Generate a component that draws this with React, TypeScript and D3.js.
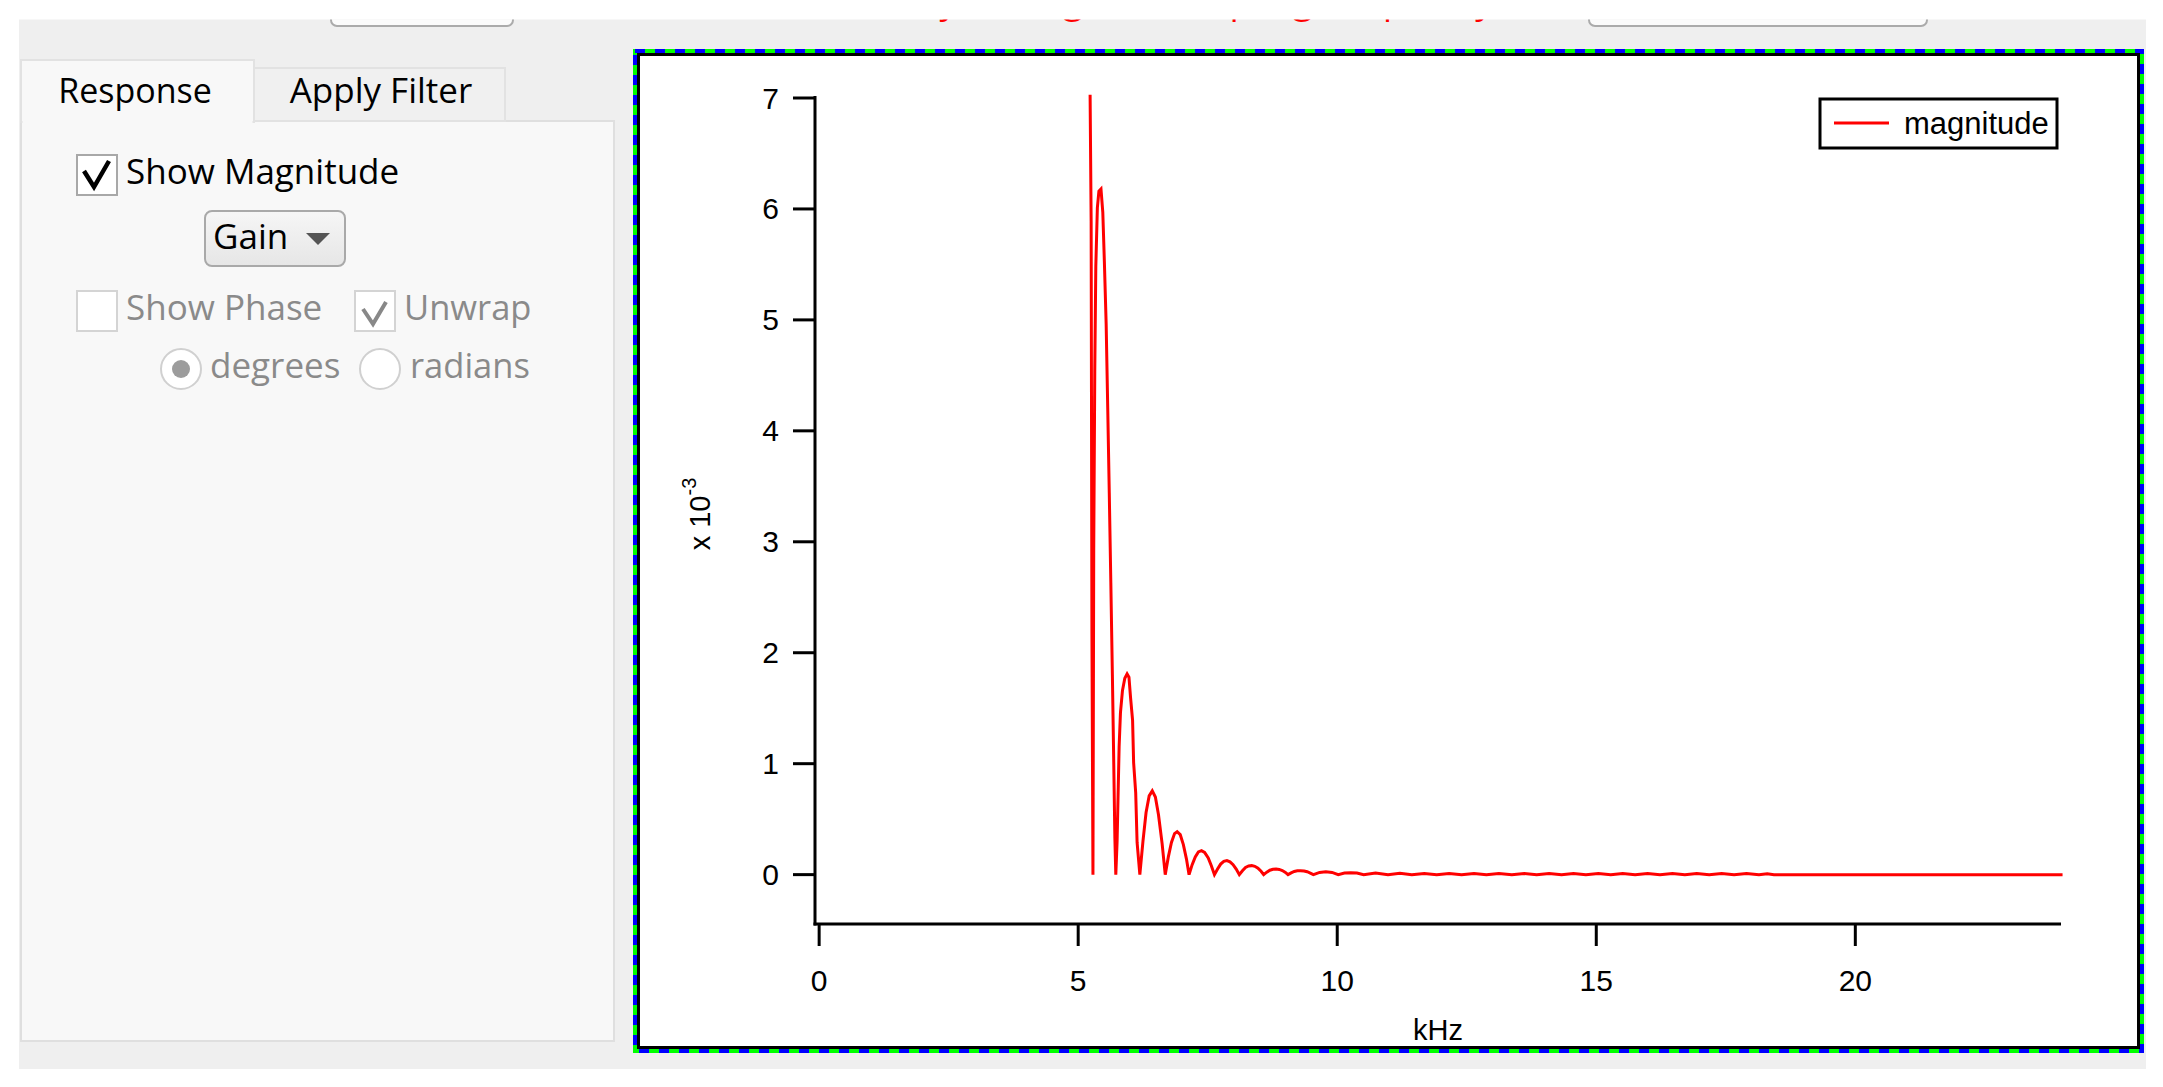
import React from 'react';
import * as d3 from 'd3';

// frequency (kHz) and magnitude (x 10^-3)
const freqKHz: number[] = [
  5.23, 5.25, 5.265, 5.285, 5.3, 5.32, 5.34, 5.37, 5.4, 5.44, 5.475, 5.505, 5.54, 5.57, 5.6, 5.63, 5.66, 5.685, 5.708, 5.726,
  5.751, 5.79, 5.816, 5.855, 5.9, 5.944, 5.98, 6.01, 6.05, 6.07, 6.11, 6.137, 6.19,
  6.25, 6.31, 6.37, 6.43, 6.49, 6.55, 6.62, 6.68,
  6.74, 6.8, 6.86, 6.91, 6.97, 7.03, 7.09, 7.14,
  7.2, 7.26, 7.32, 7.38, 7.44, 7.51, 7.57, 7.63,
  7.69, 7.75, 7.81, 7.87, 7.93, 7.99, 8.05, 8.11,
  8.17, 8.23, 8.29, 8.35, 8.41, 8.47, 8.53, 8.58,
  8.64, 8.7, 8.76, 8.82, 8.88, 8.94, 9.0, 9.05,
  9.11, 9.17, 9.23, 9.29, 9.36, 9.42, 9.48, 9.54,
  9.66, 9.78, 9.9, 10.02,
  10.14, 10.26, 10.38, 10.51,
  10.74, 10.98, 11.21, 11.44,
  11.68, 11.92, 12.16, 12.4, 12.64, 12.88, 13.12, 13.37, 13.61, 13.85, 14.09, 14.33, 14.56, 14.8,
  15.04, 15.28, 15.51, 15.75, 15.99, 16.23, 16.47, 16.71, 16.94, 17.18, 17.42, 17.66, 17.9, 18.14,
  18.3, 18.43, 24.0,
];
const magnitude: number[] = [
  7.03, 5.89, 2.19, 0.0, 2.94, 4.53, 5.48, 6.01, 6.16, 6.18, 5.97, 5.53, 4.96, 4.21, 3.44, 2.63, 1.8, 1.05, 0.33, 0.0,
  0.3, 1.15, 1.46, 1.66, 1.77, 1.81, 1.78, 1.6, 1.39, 1.01, 0.74, 0.29, 0.0,
  0.3, 0.56, 0.71, 0.755, 0.7, 0.54, 0.28, 0.0,
  0.16, 0.29, 0.37, 0.387, 0.36, 0.27, 0.14, 0.0,
  0.09, 0.16, 0.205, 0.216, 0.2, 0.15, 0.08, 0.0,
  0.05, 0.095, 0.12, 0.126, 0.115, 0.09, 0.05, 0.0,
  0.035, 0.065, 0.078, 0.081, 0.075, 0.058, 0.03, 0.0,
  0.022, 0.04, 0.048, 0.05, 0.047, 0.037, 0.02, 0.0,
  0.016, 0.029, 0.035, 0.036, 0.033, 0.026, 0.014, 0.0,
  0.02, 0.025, 0.02, 0.0,
  0.014, 0.018, 0.014, 0.0,
  0.014, 0.0, 0.012, 0.0,
  0.01, 0.0, 0.01, 0.0, 0.01, 0.0, 0.01, 0.0, 0.01, 0.0, 0.01, 0.0, 0.01, 0.0,
  0.01, 0.0, 0.01, 0.0, 0.01, 0.0, 0.01, 0.0, 0.01, 0.0, 0.01, 0.0, 0.01, 0.0,
  0.008, 0.0, 0.0,
];
const xTicks: number[] = [0, 5, 10, 15, 20];
const yTicks: number[] = [0, 1, 2, 3, 4, 5, 6, 7];
const seriesName = 'magnitude';
const xAxisTitle = 'kHz';

const UI_FONT = '"Open Sans", "Noto Sans", sans-serif';
const CHART_FONT = '"Liberation Sans", Arial, sans-serif';

export default function App() {
  const W = 2163;
  const H = 1087;
  const x = d3.scaleLinear().domain([-0.08, 23.97]).range([815, 2061]);
  const y = d3.scaleLinear().domain([-0.445, 7]).range([924, 98]);
  const n = Math.min(freqKHz.length, magnitude.length);
  const pts: [number, number][] = [];
  for (let i = 0; i < n; i++) pts.push([freqKHz[i], magnitude[i]]);
  const linePath = d3
    .line<[number, number]>()
    .x((d) => x(d[0]))
    .y((d) => y(d[1]))(pts) as string;

  const [x0, x1] = x.range();
  const [yb, yt] = y.range();

  return (
    <svg
      width={W}
      height={H}
      viewBox={`0 0 ${W} ${H}`}
      style={{ position: 'absolute', left: 0, top: 0, display: 'block', background: '#ffffff' }}
    >
      <defs>
        <clipPath id="appClip">
          <rect x={19} y={19.5} width={2127} height={1050} />
        </clipPath>
        <linearGradient id="btnGrad" x1="0" y1="0" x2="0" y2="1">
          <stop offset="0" stopColor="#f6f6f6" />
          <stop offset="1" stopColor="#e6e6e6" />
        </linearGradient>
      </defs>

      <g clipPath="url(#appClip)">
        <rect x={19} y={19} width={2127} height={1050} fill="#efefef" />
        {/* top buttons partially visible */}
        <rect x={331} y={-20} width={182} height={46} rx={6} fill="#fbfbfb" stroke="#ababab" strokeWidth={2} />
        <rect x={1589} y={-20} width={338} height={46} rx={6} fill="#fbfbfb" stroke="#ababab" strokeWidth={2} />
        {/* red status text (mostly hidden above) */}
        <text x={917} y={12.5} fontFamily={UI_FONT} fontSize={36.6} fill="#ff0000">
          by setting the sampling frequency
        </text>
      </g>

      {/* left panel */}
      <rect x={21} y={121} width={593} height={920} fill="#f8f8f8" stroke="#dfdfdf" strokeWidth={2} />
      <rect x={254} y={68} width={251} height={53} fill="#f0f0f0" stroke="#e2e2e2" strokeWidth={2} />
      <rect x={21} y={60} width={233} height={62} fill="#f8f8f8" stroke="#e2e2e2" strokeWidth={2} />
      <rect x={22.5} y={119} width={230} height={5} fill="#f8f8f8" />
      <text x={135} y={103} textAnchor="middle" fontFamily={UI_FONT} fontSize={34} fill="#000">Response</text>
      <text x={381} y={103} textAnchor="middle" fontFamily={UI_FONT} fontSize={35} fill="#000">Apply Filter</text>

      {/* Show Magnitude */}
      <rect x={77} y={155} width={40} height={40} fill="#ffffff" stroke="#a8a8a8" strokeWidth={2} />
      <path d="M84,171 L94,187 L109,161" fill="none" stroke="#000" strokeWidth={4.5} strokeLinejoin="miter" />
      <text x={126} y={184} fontFamily={UI_FONT} fontSize={35} fill="#000">Show Magnitude</text>

      {/* Gain dropdown */}
      <rect x={205} y={211} width={140} height={55} rx={7} fill="url(#btnGrad)" stroke="#a9a9a9" strokeWidth={2} />
      <text x={213} y={249} fontFamily={UI_FONT} fontSize={35} fill="#000">Gain</text>
      <path d="M306,233 L330,233 L318,245 Z" fill="#555555" />

      {/* Show Phase / Unwrap */}
      <rect x={77} y={291} width={40} height={40} fill="#ffffff" stroke="#d4d4d4" strokeWidth={2} />
      <text x={126} y={320} fontFamily={UI_FONT} fontSize={35} fill="#8a8a8a">Show Phase</text>
      <rect x={355} y={291} width={40} height={40} fill="#ffffff" stroke="#d4d4d4" strokeWidth={2} />
      <path d="M363,309 L373,324 L386,302" fill="none" stroke="#888888" strokeWidth={4} />
      <text x={404} y={320} fontFamily={UI_FONT} fontSize={34.5} fill="#8a8a8a">Unwrap</text>

      {/* radios */}
      <circle cx={181} cy={369} r={20} fill="#ffffff" stroke="#d0d0d0" strokeWidth={2} />
      <circle cx={181} cy={369} r={9} fill="#9c9c9c" />
      <text x={210} y={378} fontFamily={UI_FONT} fontSize={35} fill="#8a8a8a">degrees</text>
      <circle cx={380} cy={369} r={20} fill="#ffffff" stroke="#d0d0d0" strokeWidth={2} />
      <text x={410} y={378} fontFamily={UI_FONT} fontSize={34.5} fill="#8a8a8a">radians</text>

      {/* chart frame */}
      <rect x={635} y={51} width={1509} height={1002} fill="#ffffff" />
      <rect x={635} y={51} width={1507} height={1000} fill="none" stroke="#00ff00" strokeWidth={4} />
      <rect x={635} y={51} width={1507} height={1000} fill="none" stroke="#0000ff" strokeWidth={4} strokeDasharray="10 10" />
      <rect x={638.5} y={54.5} width={1500} height={993} fill="none" stroke="#000000" strokeWidth={3} />

      {/* data line */}
      <path d={linePath} fill="none" stroke="#ff0000" strokeWidth={3} strokeLinejoin="miter" />

      {/* y axis */}
      <line x1={x0} x2={x0} y1={yt - 2} y2={yb + 1.5} stroke="#000" strokeWidth={3} />
      {yTicks.map((t) => (
        <g key={'y' + t}>
          <line x1={x0 - 22} x2={x0} y1={y(t)} y2={y(t)} stroke="#000" strokeWidth={3} />
          <text x={779} y={y(t) + 10.5} textAnchor="end" fontFamily={CHART_FONT} fontSize={30} fill="#000">
            {t}
          </text>
        </g>
      ))}
      {/* x axis */}
      <line x1={x0 - 1.5} x2={x1} y1={yb} y2={yb} stroke="#000" strokeWidth={3} />
      {xTicks.map((t) => (
        <g key={'x' + t}>
          <line x1={x(t)} x2={x(t)} y1={yb} y2={yb + 22} stroke="#000" strokeWidth={3} />
          <text x={x(t)} y={991} textAnchor="middle" fontFamily={CHART_FONT} fontSize={30} fill="#000">
            {t}
          </text>
        </g>
      ))}
      <text x={(x0 + x1) / 2} y={1040} textAnchor="middle" fontFamily={CHART_FONT} fontSize={29} fill="#000">
        {xAxisTitle}
      </text>
      <text transform={`translate(710, 514) rotate(-90)`} textAnchor="middle" fontFamily={CHART_FONT} fontSize={29} fill="#000">
        x 10<tspan fontSize={20} dy={-14}>-3</tspan>
      </text>

      {/* legend */}
      <rect x={1820} y={99} width={237} height={49} fill="#ffffff" stroke="#000" strokeWidth={3} />
      <line x1={1834} x2={1889} y1={123} y2={123} stroke="#ff0000" strokeWidth={3} />
      <text x={1904} y={134} fontFamily={CHART_FONT} fontSize={31} fill="#000">{seriesName}</text>
    </svg>
  );
}
